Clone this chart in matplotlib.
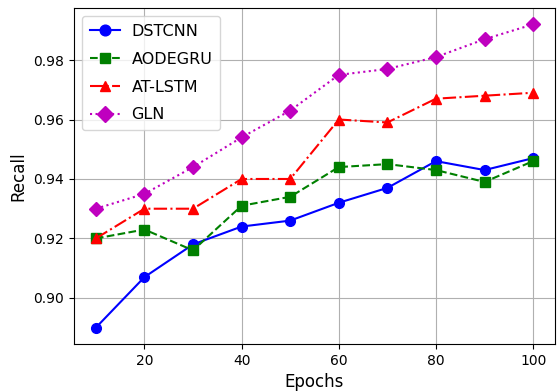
import matplotlib
matplotlib.use("Agg")
import matplotlib.pyplot as plt

epochs = [10, 20, 30, 40, 50, 60, 70, 80, 90, 100]
dstcnn = [0.890, 0.907, 0.918, 0.924, 0.926, 0.932, 0.937, 0.946, 0.943, 0.947]
aodegru = [0.920, 0.923, 0.916, 0.931, 0.934, 0.944, 0.945, 0.943, 0.939, 0.946]
atlstm = [0.920, 0.930, 0.930, 0.940, 0.940, 0.960, 0.959, 0.967, 0.968, 0.969]
gln = [0.930, 0.935, 0.944, 0.954, 0.963, 0.975, 0.977, 0.981, 0.987, 0.992]

fig = plt.figure(figsize=(5.59, 3.91), dpi=100)
ax = fig.add_axes([74/559, 1-344/391, (555-74)/559, (344-8)/391])
ax.plot(epochs, dstcnn, 'b-o', label='DSTCNN', markersize=7)
ax.plot(epochs, aodegru, 'g--s', label='AODEGRU', markersize=7)
ax.plot(epochs, atlstm, 'r-.^', label='AT-LSTM', markersize=7)
ax.plot(epochs, gln, 'm:D', label='GLN', markersize=7)
ax.set_xlabel('Epochs', fontsize=12)
ax.set_ylabel('Recall', fontsize=12)
ax.set_ylim(0.8845, 0.9975)
ax.set_xlim(5.5, 104.5)
ax.set_yticks([0.90, 0.92, 0.94, 0.96, 0.98])
ax.set_xticks([20, 40, 60, 80, 100])
ax.grid(True)
ax.legend(loc='upper left', fontsize=11.5, labelspacing=0.8, markerscale=1.1,
          handlelength=1.9, handletextpad=0.7, borderpad=0.5)
fig.savefig('out.png', dpi=100)
